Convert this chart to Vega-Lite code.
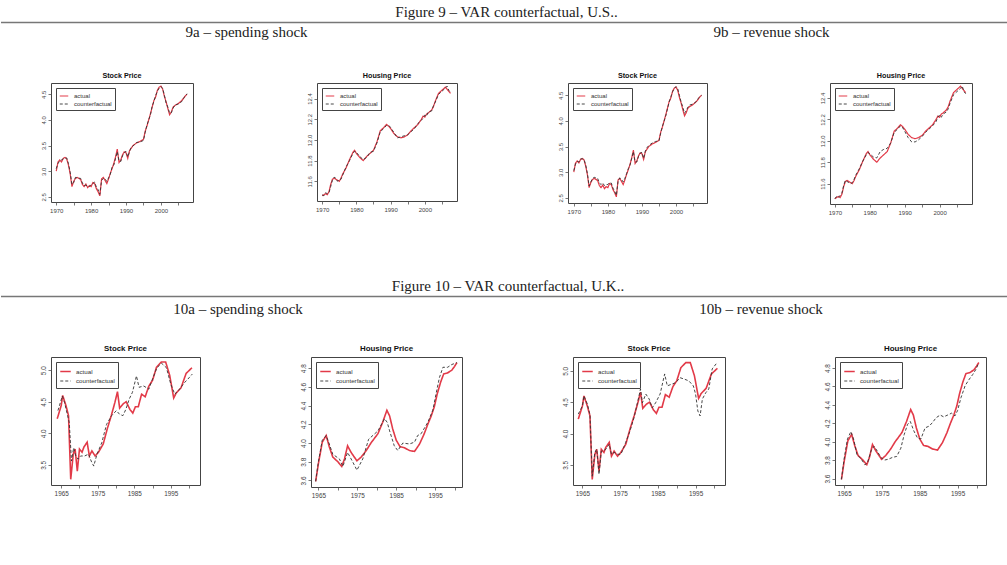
{
  "$schema": "https://vega.github.io/schema/vega-lite/v6.json",
  "background": "white",
  "padding": {"left": 0, "top": 5, "right": 0, "bottom": 0},
  "config": {
    "view": {"stroke": "#444", "strokeWidth": 1},
    "font": "Liberation Sans",
    "axis": {"grid": false, "domain": false, "tickColor": "#555", "tickSize": 3, "tickWidth": 0.8, "labelColor": "#444", "labelFont": "Liberation Sans", "labelFontSize": 6, "labelPadding": 2, "labelFlush": false, "labelOverlap": false},
    "axisY": {"labelAngle": 270},
    "legend": {"orient": "top-left", "offset": 5, "padding": 3, "strokeColor": "#444", "fillColor": "white", "labelFont": "Liberation Sans", "labelFontSize": 6, "labelColor": "#333", "symbolType": "stroke", "symbolSize": 72, "symbolStrokeWidth": 1.2, "rowPadding": 0, "labelOffset": 5},
    "title": {"font": "Liberation Sans", "fontSize": 7.2, "fontWeight": "bold", "color": "#111", "offset": 4}
  },
  "data": {"values": [
    {"d":"US stock","s":"actual","t":1970,"v":3.00},{"d":"US stock","s":"actual","t":1970.5,"v":3.18},{"d":"US stock","s":"actual","t":1971,"v":3.22},{"d":"US stock","s":"actual","t":1971.5,"v":3.18},{"d":"US stock","s":"actual","t":1972,"v":3.25},{"d":"US stock","s":"actual","t":1972.5,"v":3.27},{"d":"US stock","s":"actual","t":1973,"v":3.24},{"d":"US stock","s":"actual","t":1973.5,"v":3.12},{"d":"US stock","s":"actual","t":1974,"v":2.95},{"d":"US stock","s":"actual","t":1974.5,"v":2.70},{"d":"US stock","s":"actual","t":1975,"v":2.80},{"d":"US stock","s":"actual","t":1975.5,"v":2.86},{"d":"US stock","s":"actual","t":1976,"v":2.88},{"d":"US stock","s":"actual","t":1977,"v":2.84},{"d":"US stock","s":"actual","t":1977.5,"v":2.74},{"d":"US stock","s":"actual","t":1978,"v":2.70},{"d":"US stock","s":"actual","t":1978.5,"v":2.75},{"d":"US stock","s":"actual","t":1979,"v":2.68},{"d":"US stock","s":"actual","t":1979.5,"v":2.72},{"d":"US stock","s":"actual","t":1980,"v":2.70},{"d":"US stock","s":"actual","t":1980.5,"v":2.78},{"d":"US stock","s":"actual","t":1981,"v":2.76},{"d":"US stock","s":"actual","t":1981.5,"v":2.66},{"d":"US stock","s":"actual","t":1982,"v":2.60},{"d":"US stock","s":"actual","t":1982.5,"v":2.52},{"d":"US stock","s":"actual","t":1983,"v":2.85},{"d":"US stock","s":"actual","t":1983.5,"v":2.88},{"d":"US stock","s":"actual","t":1984,"v":2.82},{"d":"US stock","s":"actual","t":1984.5,"v":2.76},{"d":"US stock","s":"actual","t":1985,"v":2.85},{"d":"US stock","s":"actual","t":1985.5,"v":2.96},{"d":"US stock","s":"actual","t":1986,"v":3.05},{"d":"US stock","s":"actual","t":1986.5,"v":3.15},{"d":"US stock","s":"actual","t":1987,"v":3.28},{"d":"US stock","s":"actual","t":1987.5,"v":3.43},{"d":"US stock","s":"actual","t":1988,"v":3.17},{"d":"US stock","s":"actual","t":1988.5,"v":3.22},{"d":"US stock","s":"actual","t":1989,"v":3.32},{"d":"US stock","s":"actual","t":1989.5,"v":3.38},{"d":"US stock","s":"actual","t":1990,"v":3.36},{"d":"US stock","s":"actual","t":1990.5,"v":3.25},{"d":"US stock","s":"actual","t":1991,"v":3.40},{"d":"US stock","s":"actual","t":1991.5,"v":3.45},{"d":"US stock","s":"actual","t":1992,"v":3.50},{"d":"US stock","s":"actual","t":1993,"v":3.55},{"d":"US stock","s":"actual","t":1994,"v":3.58},{"d":"US stock","s":"actual","t":1995,"v":3.62},{"d":"US stock","s":"actual","t":1995.5,"v":3.78},{"d":"US stock","s":"actual","t":1996,"v":3.88},{"d":"US stock","s":"actual","t":1997,"v":4.12},{"d":"US stock","s":"actual","t":1997.5,"v":4.25},{"d":"US stock","s":"actual","t":1998,"v":4.38},{"d":"US stock","s":"actual","t":1998.5,"v":4.45},{"d":"US stock","s":"actual","t":1999,"v":4.58},{"d":"US stock","s":"actual","t":1999.5,"v":4.64},{"d":"US stock","s":"actual","t":2000,"v":4.66},{"d":"US stock","s":"actual","t":2000.5,"v":4.60},{"d":"US stock","s":"actual","t":2001,"v":4.46},{"d":"US stock","s":"actual","t":2001.5,"v":4.35},{"d":"US stock","s":"actual","t":2002,"v":4.22},{"d":"US stock","s":"actual","t":2002.5,"v":4.10},{"d":"US stock","s":"actual","t":2003,"v":4.16},{"d":"US stock","s":"actual","t":2003.5,"v":4.25},{"d":"US stock","s":"actual","t":2004,"v":4.28},{"d":"US stock","s":"actual","t":2005,"v":4.32},{"d":"US stock","s":"actual","t":2006,"v":4.38},{"d":"US stock","s":"actual","t":2006.5,"v":4.42},{"d":"US stock","s":"actual","t":2007,"v":4.47},{"d":"US stock","s":"actual","t":2007.5,"v":4.50},

    {"d":"US stock","s":"counterfactual","k":"spending","t":1970,"v":3.05},{"d":"US stock","s":"counterfactual","k":"spending","t":1970.5,"v":3.15},{"d":"US stock","s":"counterfactual","k":"spending","t":1971,"v":3.20},{"d":"US stock","s":"counterfactual","k":"spending","t":1971.5,"v":3.22},{"d":"US stock","s":"counterfactual","k":"spending","t":1972,"v":3.24},{"d":"US stock","s":"counterfactual","k":"spending","t":1972.5,"v":3.25},{"d":"US stock","s":"counterfactual","k":"spending","t":1973,"v":3.26},{"d":"US stock","s":"counterfactual","k":"spending","t":1973.5,"v":3.15},{"d":"US stock","s":"counterfactual","k":"spending","t":1974,"v":2.98},{"d":"US stock","s":"counterfactual","k":"spending","t":1974.5,"v":2.74},{"d":"US stock","s":"counterfactual","k":"spending","t":1975,"v":2.78},{"d":"US stock","s":"counterfactual","k":"spending","t":1975.5,"v":2.88},{"d":"US stock","s":"counterfactual","k":"spending","t":1976,"v":2.87},{"d":"US stock","s":"counterfactual","k":"spending","t":1977,"v":2.86},{"d":"US stock","s":"counterfactual","k":"spending","t":1977.5,"v":2.77},{"d":"US stock","s":"counterfactual","k":"spending","t":1978,"v":2.72},{"d":"US stock","s":"counterfactual","k":"spending","t":1978.5,"v":2.73},{"d":"US stock","s":"counterfactual","k":"spending","t":1979,"v":2.71},{"d":"US stock","s":"counterfactual","k":"spending","t":1979.5,"v":2.70},{"d":"US stock","s":"counterfactual","k":"spending","t":1980,"v":2.74},{"d":"US stock","s":"counterfactual","k":"spending","t":1980.5,"v":2.76},{"d":"US stock","s":"counterfactual","k":"spending","t":1981,"v":2.79},{"d":"US stock","s":"counterfactual","k":"spending","t":1981.5,"v":2.69},{"d":"US stock","s":"counterfactual","k":"spending","t":1982,"v":2.64},{"d":"US stock","s":"counterfactual","k":"spending","t":1982.5,"v":2.55},{"d":"US stock","s":"counterfactual","k":"spending","t":1983,"v":2.82},{"d":"US stock","s":"counterfactual","k":"spending","t":1983.5,"v":2.86},{"d":"US stock","s":"counterfactual","k":"spending","t":1984,"v":2.85},{"d":"US stock","s":"counterfactual","k":"spending","t":1984.5,"v":2.80},{"d":"US stock","s":"counterfactual","k":"spending","t":1985,"v":2.87},{"d":"US stock","s":"counterfactual","k":"spending","t":1985.5,"v":2.94},{"d":"US stock","s":"counterfactual","k":"spending","t":1986,"v":3.08},{"d":"US stock","s":"counterfactual","k":"spending","t":1986.5,"v":3.12},{"d":"US stock","s":"counterfactual","k":"spending","t":1987,"v":3.25},{"d":"US stock","s":"counterfactual","k":"spending","t":1987.5,"v":3.38},{"d":"US stock","s":"counterfactual","k":"spending","t":1988,"v":3.20},{"d":"US stock","s":"counterfactual","k":"spending","t":1988.5,"v":3.19},{"d":"US stock","s":"counterfactual","k":"spending","t":1989,"v":3.30},{"d":"US stock","s":"counterfactual","k":"spending","t":1989.5,"v":3.36},{"d":"US stock","s":"counterfactual","k":"spending","t":1990,"v":3.39},{"d":"US stock","s":"counterfactual","k":"spending","t":1990.5,"v":3.28},{"d":"US stock","s":"counterfactual","k":"spending","t":1991,"v":3.38},{"d":"US stock","s":"counterfactual","k":"spending","t":1991.5,"v":3.47},{"d":"US stock","s":"counterfactual","k":"spending","t":1992,"v":3.49},{"d":"US stock","s":"counterfactual","k":"spending","t":1993,"v":3.56},{"d":"US stock","s":"counterfactual","k":"spending","t":1994,"v":3.57},{"d":"US stock","s":"counterfactual","k":"spending","t":1995,"v":3.60},{"d":"US stock","s":"counterfactual","k":"spending","t":1995.5,"v":3.76},{"d":"US stock","s":"counterfactual","k":"spending","t":1996,"v":3.90},{"d":"US stock","s":"counterfactual","k":"spending","t":1997,"v":4.10},{"d":"US stock","s":"counterfactual","k":"spending","t":1997.5,"v":4.27},{"d":"US stock","s":"counterfactual","k":"spending","t":1998,"v":4.36},{"d":"US stock","s":"counterfactual","k":"spending","t":1998.5,"v":4.48},{"d":"US stock","s":"counterfactual","k":"spending","t":1999,"v":4.56},{"d":"US stock","s":"counterfactual","k":"spending","t":1999.5,"v":4.62},{"d":"US stock","s":"counterfactual","k":"spending","t":2000,"v":4.65},{"d":"US stock","s":"counterfactual","k":"spending","t":2000.5,"v":4.62},{"d":"US stock","s":"counterfactual","k":"spending","t":2001,"v":4.48},{"d":"US stock","s":"counterfactual","k":"spending","t":2001.5,"v":4.33},{"d":"US stock","s":"counterfactual","k":"spending","t":2002,"v":4.25},{"d":"US stock","s":"counterfactual","k":"spending","t":2002.5,"v":4.13},{"d":"US stock","s":"counterfactual","k":"spending","t":2003,"v":4.14},{"d":"US stock","s":"counterfactual","k":"spending","t":2003.5,"v":4.23},{"d":"US stock","s":"counterfactual","k":"spending","t":2004,"v":4.29},{"d":"US stock","s":"counterfactual","k":"spending","t":2005,"v":4.31},{"d":"US stock","s":"counterfactual","k":"spending","t":2006,"v":4.36},{"d":"US stock","s":"counterfactual","k":"spending","t":2006.5,"v":4.43},{"d":"US stock","s":"counterfactual","k":"spending","t":2007,"v":4.46},{"d":"US stock","s":"counterfactual","k":"spending","t":2007.5,"v":4.51},

    {"d":"US stock","s":"counterfactual","k":"revenue","t":1970,"v":3.03},{"d":"US stock","s":"counterfactual","k":"revenue","t":1970.5,"v":3.16},{"d":"US stock","s":"counterfactual","k":"revenue","t":1971,"v":3.21},{"d":"US stock","s":"counterfactual","k":"revenue","t":1971.5,"v":3.20},{"d":"US stock","s":"counterfactual","k":"revenue","t":1972,"v":3.26},{"d":"US stock","s":"counterfactual","k":"revenue","t":1972.5,"v":3.26},{"d":"US stock","s":"counterfactual","k":"revenue","t":1973,"v":3.25},{"d":"US stock","s":"counterfactual","k":"revenue","t":1973.5,"v":3.14},{"d":"US stock","s":"counterfactual","k":"revenue","t":1974,"v":2.97},{"d":"US stock","s":"counterfactual","k":"revenue","t":1974.5,"v":2.73},{"d":"US stock","s":"counterfactual","k":"revenue","t":1975,"v":2.81},{"d":"US stock","s":"counterfactual","k":"revenue","t":1975.5,"v":2.88},{"d":"US stock","s":"counterfactual","k":"revenue","t":1976,"v":2.90},{"d":"US stock","s":"counterfactual","k":"revenue","t":1977,"v":2.88},{"d":"US stock","s":"counterfactual","k":"revenue","t":1977.5,"v":2.79},{"d":"US stock","s":"counterfactual","k":"revenue","t":1978,"v":2.76},{"d":"US stock","s":"counterfactual","k":"revenue","t":1978.5,"v":2.79},{"d":"US stock","s":"counterfactual","k":"revenue","t":1979,"v":2.74},{"d":"US stock","s":"counterfactual","k":"revenue","t":1979.5,"v":2.76},{"d":"US stock","s":"counterfactual","k":"revenue","t":1980,"v":2.76},{"d":"US stock","s":"counterfactual","k":"revenue","t":1980.5,"v":2.80},{"d":"US stock","s":"counterfactual","k":"revenue","t":1981,"v":2.79},{"d":"US stock","s":"counterfactual","k":"revenue","t":1981.5,"v":2.69},{"d":"US stock","s":"counterfactual","k":"revenue","t":1982,"v":2.63},{"d":"US stock","s":"counterfactual","k":"revenue","t":1982.5,"v":2.55},{"d":"US stock","s":"counterfactual","k":"revenue","t":1983,"v":2.83},{"d":"US stock","s":"counterfactual","k":"revenue","t":1983.5,"v":2.89},{"d":"US stock","s":"counterfactual","k":"revenue","t":1984,"v":2.86},{"d":"US stock","s":"counterfactual","k":"revenue","t":1984.5,"v":2.81},{"d":"US stock","s":"counterfactual","k":"revenue","t":1985,"v":2.88},{"d":"US stock","s":"counterfactual","k":"revenue","t":1985.5,"v":2.97},{"d":"US stock","s":"counterfactual","k":"revenue","t":1986,"v":3.07},{"d":"US stock","s":"counterfactual","k":"revenue","t":1986.5,"v":3.14},{"d":"US stock","s":"counterfactual","k":"revenue","t":1987,"v":3.27},{"d":"US stock","s":"counterfactual","k":"revenue","t":1987.5,"v":3.40},{"d":"US stock","s":"counterfactual","k":"revenue","t":1988,"v":3.20},{"d":"US stock","s":"counterfactual","k":"revenue","t":1988.5,"v":3.20},{"d":"US stock","s":"counterfactual","k":"revenue","t":1989,"v":3.31},{"d":"US stock","s":"counterfactual","k":"revenue","t":1989.5,"v":3.37},{"d":"US stock","s":"counterfactual","k":"revenue","t":1990,"v":3.39},{"d":"US stock","s":"counterfactual","k":"revenue","t":1990.5,"v":3.27},{"d":"US stock","s":"counterfactual","k":"revenue","t":1991,"v":3.41},{"d":"US stock","s":"counterfactual","k":"revenue","t":1991.5,"v":3.48},{"d":"US stock","s":"counterfactual","k":"revenue","t":1992,"v":3.52},{"d":"US stock","s":"counterfactual","k":"revenue","t":1993,"v":3.57},{"d":"US stock","s":"counterfactual","k":"revenue","t":1994,"v":3.60},{"d":"US stock","s":"counterfactual","k":"revenue","t":1995,"v":3.61},{"d":"US stock","s":"counterfactual","k":"revenue","t":1995.5,"v":3.76},{"d":"US stock","s":"counterfactual","k":"revenue","t":1996,"v":3.89},{"d":"US stock","s":"counterfactual","k":"revenue","t":1997,"v":4.10},{"d":"US stock","s":"counterfactual","k":"revenue","t":1997.5,"v":4.24},{"d":"US stock","s":"counterfactual","k":"revenue","t":1998,"v":4.37},{"d":"US stock","s":"counterfactual","k":"revenue","t":1998.5,"v":4.47},{"d":"US stock","s":"counterfactual","k":"revenue","t":1999,"v":4.57},{"d":"US stock","s":"counterfactual","k":"revenue","t":1999.5,"v":4.63},{"d":"US stock","s":"counterfactual","k":"revenue","t":2000,"v":4.67},{"d":"US stock","s":"counterfactual","k":"revenue","t":2000.5,"v":4.63},{"d":"US stock","s":"counterfactual","k":"revenue","t":2001,"v":4.50},{"d":"US stock","s":"counterfactual","k":"revenue","t":2001.5,"v":4.37},{"d":"US stock","s":"counterfactual","k":"revenue","t":2002,"v":4.27},{"d":"US stock","s":"counterfactual","k":"revenue","t":2002.5,"v":4.15},{"d":"US stock","s":"counterfactual","k":"revenue","t":2003,"v":4.20},{"d":"US stock","s":"counterfactual","k":"revenue","t":2003.5,"v":4.27},{"d":"US stock","s":"counterfactual","k":"revenue","t":2004,"v":4.31},{"d":"US stock","s":"counterfactual","k":"revenue","t":2005,"v":4.33},{"d":"US stock","s":"counterfactual","k":"revenue","t":2006,"v":4.38},{"d":"US stock","s":"counterfactual","k":"revenue","t":2006.5,"v":4.44},{"d":"US stock","s":"counterfactual","k":"revenue","t":2007,"v":4.47},{"d":"US stock","s":"counterfactual","k":"revenue","t":2007.5,"v":4.50},

    {"d":"US housing","s":"actual","t":1970,"v":11.46},{"d":"US housing","s":"actual","t":1970.5,"v":11.47},{"d":"US housing","s":"actual","t":1971,"v":11.48},{"d":"US housing","s":"actual","t":1971.5,"v":11.47},{"d":"US housing","s":"actual","t":1972,"v":11.50},{"d":"US housing","s":"actual","t":1972.5,"v":11.57},{"d":"US housing","s":"actual","t":1973,"v":11.62},{"d":"US housing","s":"actual","t":1973.5,"v":11.63},{"d":"US housing","s":"actual","t":1974,"v":11.62},{"d":"US housing","s":"actual","t":1974.5,"v":11.61},{"d":"US housing","s":"actual","t":1975,"v":11.60},{"d":"US housing","s":"actual","t":1975.5,"v":11.63},{"d":"US housing","s":"actual","t":1976,"v":11.67},{"d":"US housing","s":"actual","t":1977,"v":11.73},{"d":"US housing","s":"actual","t":1978,"v":11.81},{"d":"US housing","s":"actual","t":1979,"v":11.88},{"d":"US housing","s":"actual","t":1979.5,"v":11.90},{"d":"US housing","s":"actual","t":1980,"v":11.87},{"d":"US housing","s":"actual","t":1981,"v":11.83},{"d":"US housing","s":"actual","t":1982,"v":11.80},{"d":"US housing","s":"actual","t":1983,"v":11.84},{"d":"US housing","s":"actual","t":1984,"v":11.87},{"d":"US housing","s":"actual","t":1985,"v":11.90},{"d":"US housing","s":"actual","t":1986,"v":11.98},{"d":"US housing","s":"actual","t":1987,"v":12.09},{"d":"US housing","s":"actual","t":1988,"v":12.12},{"d":"US housing","s":"actual","t":1988.8,"v":12.15},{"d":"US housing","s":"actual","t":1989.5,"v":12.13},{"d":"US housing","s":"actual","t":1990,"v":12.11},{"d":"US housing","s":"actual","t":1991,"v":12.06},{"d":"US housing","s":"actual","t":1992,"v":12.03},{"d":"US housing","s":"actual","t":1993,"v":12.02},{"d":"US housing","s":"actual","t":1994,"v":12.03},{"d":"US housing","s":"actual","t":1995,"v":12.05},{"d":"US housing","s":"actual","t":1996,"v":12.09},{"d":"US housing","s":"actual","t":1997,"v":12.12},{"d":"US housing","s":"actual","t":1998,"v":12.15},{"d":"US housing","s":"actual","t":1999,"v":12.20},{"d":"US housing","s":"actual","t":1999.5,"v":12.23},{"d":"US housing","s":"actual","t":2000,"v":12.22},{"d":"US housing","s":"actual","t":2000.5,"v":12.25},{"d":"US housing","s":"actual","t":2001,"v":12.26},{"d":"US housing","s":"actual","t":2002,"v":12.29},{"d":"US housing","s":"actual","t":2002.5,"v":12.32},{"d":"US housing","s":"actual","t":2003,"v":12.37},{"d":"US housing","s":"actual","t":2004,"v":12.45},{"d":"US housing","s":"actual","t":2005,"v":12.48},{"d":"US housing","s":"actual","t":2006,"v":12.51},{"d":"US housing","s":"actual","t":2006.5,"v":12.49},{"d":"US housing","s":"actual","t":2007,"v":12.47},{"d":"US housing","s":"actual","t":2007.5,"v":12.45},

    {"d":"US housing","s":"counterfactual","k":"spending","t":1970,"v":11.47},{"d":"US housing","s":"counterfactual","k":"spending","t":1970.5,"v":11.46},{"d":"US housing","s":"counterfactual","k":"spending","t":1971,"v":11.49},{"d":"US housing","s":"counterfactual","k":"spending","t":1971.5,"v":11.48},{"d":"US housing","s":"counterfactual","k":"spending","t":1972,"v":11.49},{"d":"US housing","s":"counterfactual","k":"spending","t":1972.5,"v":11.55},{"d":"US housing","s":"counterfactual","k":"spending","t":1973,"v":11.61},{"d":"US housing","s":"counterfactual","k":"spending","t":1973.5,"v":11.64},{"d":"US housing","s":"counterfactual","k":"spending","t":1974,"v":11.63},{"d":"US housing","s":"counterfactual","k":"spending","t":1974.5,"v":11.60},{"d":"US housing","s":"counterfactual","k":"spending","t":1975,"v":11.62},{"d":"US housing","s":"counterfactual","k":"spending","t":1975.5,"v":11.62},{"d":"US housing","s":"counterfactual","k":"spending","t":1976,"v":11.66},{"d":"US housing","s":"counterfactual","k":"spending","t":1977,"v":11.74},{"d":"US housing","s":"counterfactual","k":"spending","t":1978,"v":11.80},{"d":"US housing","s":"counterfactual","k":"spending","t":1979,"v":11.87},{"d":"US housing","s":"counterfactual","k":"spending","t":1979.5,"v":11.89},{"d":"US housing","s":"counterfactual","k":"spending","t":1980,"v":11.88},{"d":"US housing","s":"counterfactual","k":"spending","t":1981,"v":11.84},{"d":"US housing","s":"counterfactual","k":"spending","t":1982,"v":11.81},{"d":"US housing","s":"counterfactual","k":"spending","t":1983,"v":11.83},{"d":"US housing","s":"counterfactual","k":"spending","t":1984,"v":11.88},{"d":"US housing","s":"counterfactual","k":"spending","t":1985,"v":11.89},{"d":"US housing","s":"counterfactual","k":"spending","t":1986,"v":11.97},{"d":"US housing","s":"counterfactual","k":"spending","t":1987,"v":12.08},{"d":"US housing","s":"counterfactual","k":"spending","t":1988,"v":12.11},{"d":"US housing","s":"counterfactual","k":"spending","t":1988.8,"v":12.14},{"d":"US housing","s":"counterfactual","k":"spending","t":1989.5,"v":12.14},{"d":"US housing","s":"counterfactual","k":"spending","t":1990,"v":12.12},{"d":"US housing","s":"counterfactual","k":"spending","t":1991,"v":12.07},{"d":"US housing","s":"counterfactual","k":"spending","t":1992,"v":12.02},{"d":"US housing","s":"counterfactual","k":"spending","t":1993,"v":12.03},{"d":"US housing","s":"counterfactual","k":"spending","t":1994,"v":12.04},{"d":"US housing","s":"counterfactual","k":"spending","t":1995,"v":12.05},{"d":"US housing","s":"counterfactual","k":"spending","t":1996,"v":12.08},{"d":"US housing","s":"counterfactual","k":"spending","t":1997,"v":12.11},{"d":"US housing","s":"counterfactual","k":"spending","t":1998,"v":12.16},{"d":"US housing","s":"counterfactual","k":"spending","t":1999,"v":12.19},{"d":"US housing","s":"counterfactual","k":"spending","t":1999.5,"v":12.21},{"d":"US housing","s":"counterfactual","k":"spending","t":2000,"v":12.24},{"d":"US housing","s":"counterfactual","k":"spending","t":2000.5,"v":12.23},{"d":"US housing","s":"counterfactual","k":"spending","t":2001,"v":12.27},{"d":"US housing","s":"counterfactual","k":"spending","t":2002,"v":12.28},{"d":"US housing","s":"counterfactual","k":"spending","t":2002.5,"v":12.33},{"d":"US housing","s":"counterfactual","k":"spending","t":2003,"v":12.36},{"d":"US housing","s":"counterfactual","k":"spending","t":2004,"v":12.44},{"d":"US housing","s":"counterfactual","k":"spending","t":2005,"v":12.47},{"d":"US housing","s":"counterfactual","k":"spending","t":2006,"v":12.50},{"d":"US housing","s":"counterfactual","k":"spending","t":2006.5,"v":12.52},{"d":"US housing","s":"counterfactual","k":"spending","t":2007,"v":12.48},{"d":"US housing","s":"counterfactual","k":"spending","t":2007.5,"v":12.46},

    {"d":"US housing","s":"counterfactual","k":"revenue","t":1970,"v":11.46},{"d":"US housing","s":"counterfactual","k":"revenue","t":1970.5,"v":11.48},{"d":"US housing","s":"counterfactual","k":"revenue","t":1971,"v":11.47},{"d":"US housing","s":"counterfactual","k":"revenue","t":1971.5,"v":11.49},{"d":"US housing","s":"counterfactual","k":"revenue","t":1972,"v":11.51},{"d":"US housing","s":"counterfactual","k":"revenue","t":1972.5,"v":11.58},{"d":"US housing","s":"counterfactual","k":"revenue","t":1973,"v":11.63},{"d":"US housing","s":"counterfactual","k":"revenue","t":1973.5,"v":11.62},{"d":"US housing","s":"counterfactual","k":"revenue","t":1974,"v":11.61},{"d":"US housing","s":"counterfactual","k":"revenue","t":1974.5,"v":11.60},{"d":"US housing","s":"counterfactual","k":"revenue","t":1975,"v":11.61},{"d":"US housing","s":"counterfactual","k":"revenue","t":1975.5,"v":11.64},{"d":"US housing","s":"counterfactual","k":"revenue","t":1976,"v":11.68},{"d":"US housing","s":"counterfactual","k":"revenue","t":1977,"v":11.74},{"d":"US housing","s":"counterfactual","k":"revenue","t":1978,"v":11.81},{"d":"US housing","s":"counterfactual","k":"revenue","t":1979,"v":11.87},{"d":"US housing","s":"counterfactual","k":"revenue","t":1979.5,"v":11.89},{"d":"US housing","s":"counterfactual","k":"revenue","t":1980,"v":11.88},{"d":"US housing","s":"counterfactual","k":"revenue","t":1981,"v":11.85},{"d":"US housing","s":"counterfactual","k":"revenue","t":1982,"v":11.84},{"d":"US housing","s":"counterfactual","k":"revenue","t":1983,"v":11.90},{"d":"US housing","s":"counterfactual","k":"revenue","t":1984,"v":11.92},{"d":"US housing","s":"counterfactual","k":"revenue","t":1985,"v":11.93},{"d":"US housing","s":"counterfactual","k":"revenue","t":1986,"v":11.98},{"d":"US housing","s":"counterfactual","k":"revenue","t":1987,"v":12.08},{"d":"US housing","s":"counterfactual","k":"revenue","t":1988,"v":12.11},{"d":"US housing","s":"counterfactual","k":"revenue","t":1988.8,"v":12.14},{"d":"US housing","s":"counterfactual","k":"revenue","t":1989.5,"v":12.12},{"d":"US housing","s":"counterfactual","k":"revenue","t":1990,"v":12.09},{"d":"US housing","s":"counterfactual","k":"revenue","t":1991,"v":12.03},{"d":"US housing","s":"counterfactual","k":"revenue","t":1992,"v":11.99},{"d":"US housing","s":"counterfactual","k":"revenue","t":1993,"v":11.99},{"d":"US housing","s":"counterfactual","k":"revenue","t":1994,"v":12.01},{"d":"US housing","s":"counterfactual","k":"revenue","t":1995,"v":12.04},{"d":"US housing","s":"counterfactual","k":"revenue","t":1996,"v":12.08},{"d":"US housing","s":"counterfactual","k":"revenue","t":1997,"v":12.11},{"d":"US housing","s":"counterfactual","k":"revenue","t":1998,"v":12.14},{"d":"US housing","s":"counterfactual","k":"revenue","t":1999,"v":12.18},{"d":"US housing","s":"counterfactual","k":"revenue","t":1999.5,"v":12.22},{"d":"US housing","s":"counterfactual","k":"revenue","t":2000,"v":12.24},{"d":"US housing","s":"counterfactual","k":"revenue","t":2000.5,"v":12.22},{"d":"US housing","s":"counterfactual","k":"revenue","t":2001,"v":12.25},{"d":"US housing","s":"counterfactual","k":"revenue","t":2002,"v":12.27},{"d":"US housing","s":"counterfactual","k":"revenue","t":2002.5,"v":12.30},{"d":"US housing","s":"counterfactual","k":"revenue","t":2003,"v":12.35},{"d":"US housing","s":"counterfactual","k":"revenue","t":2004,"v":12.43},{"d":"US housing","s":"counterfactual","k":"revenue","t":2005,"v":12.46},{"d":"US housing","s":"counterfactual","k":"revenue","t":2006,"v":12.49},{"d":"US housing","s":"counterfactual","k":"revenue","t":2006.5,"v":12.51},{"d":"US housing","s":"counterfactual","k":"revenue","t":2007,"v":12.46},{"d":"US housing","s":"counterfactual","k":"revenue","t":2007.5,"v":12.44},

    {"d":"UK stock","s":"actual","t":1963.9,"v":4.23},{"d":"UK stock","s":"actual","t":1965.0,"v":4.44},{"d":"UK stock","s":"actual","t":1965.4,"v":4.60},{"d":"UK stock","s":"actual","t":1966.3,"v":4.44},{"d":"UK stock","s":"actual","t":1967.0,"v":4.28},{"d":"UK stock","s":"actual","t":1967.6,"v":3.27},{"d":"UK stock","s":"actual","t":1968.3,"v":3.67},{"d":"UK stock","s":"actual","t":1968.8,"v":3.75},{"d":"UK stock","s":"actual","t":1969.4,"v":3.40},{"d":"UK stock","s":"actual","t":1970.0,"v":3.75},{"d":"UK stock","s":"actual","t":1970.7,"v":3.70},{"d":"UK stock","s":"actual","t":1971.2,"v":3.78},{"d":"UK stock","s":"actual","t":1972.1,"v":3.86},{"d":"UK stock","s":"actual","t":1972.7,"v":3.64},{"d":"UK stock","s":"actual","t":1973.4,"v":3.72},{"d":"UK stock","s":"actual","t":1974.3,"v":3.64},{"d":"UK stock","s":"actual","t":1975.2,"v":3.70},{"d":"UK stock","s":"actual","t":1976.5,"v":3.83},{"d":"UK stock","s":"actual","t":1977.6,"v":4.07},{"d":"UK stock","s":"actual","t":1978.7,"v":4.28},{"d":"UK stock","s":"actual","t":1979.7,"v":4.49},{"d":"UK stock","s":"actual","t":1980.4,"v":4.66},{"d":"UK stock","s":"actual","t":1981.0,"v":4.40},{"d":"UK stock","s":"actual","t":1982.0,"v":4.47},{"d":"UK stock","s":"actual","t":1982.8,"v":4.50},{"d":"UK stock","s":"actual","t":1983.8,"v":4.38},{"d":"UK stock","s":"actual","t":1984.6,"v":4.32},{"d":"UK stock","s":"actual","t":1985.3,"v":4.42},{"d":"UK stock","s":"actual","t":1986.1,"v":4.42},{"d":"UK stock","s":"actual","t":1987.0,"v":4.62},{"d":"UK stock","s":"actual","t":1988.0,"v":4.58},{"d":"UK stock","s":"actual","t":1989.0,"v":4.75},{"d":"UK stock","s":"actual","t":1990.0,"v":4.84},{"d":"UK stock","s":"actual","t":1991.1,"v":5.05},{"d":"UK stock","s":"actual","t":1992.4,"v":5.13},{"d":"UK stock","s":"actual","t":1993.6,"v":5.13},{"d":"UK stock","s":"actual","t":1994.7,"v":4.92},{"d":"UK stock","s":"actual","t":1995.8,"v":4.56},{"d":"UK stock","s":"actual","t":1996.5,"v":4.64},{"d":"UK stock","s":"actual","t":1997.8,"v":4.72},{"d":"UK stock","s":"actual","t":1999.2,"v":4.95},{"d":"UK stock","s":"actual","t":2000.8,"v":5.04},

    {"d":"UK stock","s":"counterfactual","k":"spending","t":1964.1,"v":4.36},{"d":"UK stock","s":"counterfactual","k":"spending","t":1965.3,"v":4.59},{"d":"UK stock","s":"counterfactual","k":"spending","t":1965.9,"v":4.49},{"d":"UK stock","s":"counterfactual","k":"spending","t":1967.2,"v":4.17},{"d":"UK stock","s":"counterfactual","k":"spending","t":1967.8,"v":3.56},{"d":"UK stock","s":"counterfactual","k":"spending","t":1968.4,"v":3.77},{"d":"UK stock","s":"counterfactual","k":"spending","t":1969.0,"v":3.64},{"d":"UK stock","s":"counterfactual","k":"spending","t":1969.6,"v":3.59},{"d":"UK stock","s":"counterfactual","k":"spending","t":1970.3,"v":3.64},{"d":"UK stock","s":"counterfactual","k":"spending","t":1971.4,"v":3.64},{"d":"UK stock","s":"counterfactual","k":"spending","t":1972.5,"v":3.67},{"d":"UK stock","s":"counterfactual","k":"spending","t":1973.2,"v":3.56},{"d":"UK stock","s":"counterfactual","k":"spending","t":1973.9,"v":3.48},{"d":"UK stock","s":"counterfactual","k":"spending","t":1974.8,"v":3.67},{"d":"UK stock","s":"counterfactual","k":"spending","t":1976.1,"v":3.85},{"d":"UK stock","s":"counterfactual","k":"spending","t":1977.4,"v":4.14},{"d":"UK stock","s":"counterfactual","k":"spending","t":1978.8,"v":4.28},{"d":"UK stock","s":"counterfactual","k":"spending","t":1980.1,"v":4.36},{"d":"UK stock","s":"counterfactual","k":"spending","t":1981.0,"v":4.30},{"d":"UK stock","s":"counterfactual","k":"spending","t":1981.9,"v":4.28},{"d":"UK stock","s":"counterfactual","k":"spending","t":1982.7,"v":4.38},{"d":"UK stock","s":"counterfactual","k":"spending","t":1983.6,"v":4.54},{"d":"UK stock","s":"counterfactual","k":"spending","t":1984.5,"v":4.65},{"d":"UK stock","s":"counterfactual","k":"spending","t":1985.6,"v":4.91},{"d":"UK stock","s":"counterfactual","k":"spending","t":1986.3,"v":4.73},{"d":"UK stock","s":"counterfactual","k":"spending","t":1987.6,"v":4.75},{"d":"UK stock","s":"counterfactual","k":"spending","t":1989.0,"v":4.70},{"d":"UK stock","s":"counterfactual","k":"spending","t":1989.8,"v":4.83},{"d":"UK stock","s":"counterfactual","k":"spending","t":1991.2,"v":5.04},{"d":"UK stock","s":"counterfactual","k":"spending","t":1992.5,"v":5.11},{"d":"UK stock","s":"counterfactual","k":"spending","t":1993.8,"v":5.04},{"d":"UK stock","s":"counterfactual","k":"spending","t":1995.0,"v":4.78},{"d":"UK stock","s":"counterfactual","k":"spending","t":1996.1,"v":4.62},{"d":"UK stock","s":"counterfactual","k":"spending","t":1997.4,"v":4.70},{"d":"UK stock","s":"counterfactual","k":"spending","t":1998.7,"v":4.80},{"d":"UK stock","s":"counterfactual","k":"spending","t":2000.0,"v":4.88},{"d":"UK stock","s":"counterfactual","k":"spending","t":2000.9,"v":4.94},

    {"d":"UK stock","s":"counterfactual","k":"revenue","t":1963.9,"v":4.31},{"d":"UK stock","s":"counterfactual","k":"revenue","t":1965.0,"v":4.44},{"d":"UK stock","s":"counterfactual","k":"revenue","t":1965.4,"v":4.60},{"d":"UK stock","s":"counterfactual","k":"revenue","t":1966.3,"v":4.47},{"d":"UK stock","s":"counterfactual","k":"revenue","t":1967.0,"v":4.30},{"d":"UK stock","s":"counterfactual","k":"revenue","t":1967.6,"v":3.32},{"d":"UK stock","s":"counterfactual","k":"revenue","t":1968.3,"v":3.70},{"d":"UK stock","s":"counterfactual","k":"revenue","t":1968.8,"v":3.75},{"d":"UK stock","s":"counterfactual","k":"revenue","t":1969.4,"v":3.35},{"d":"UK stock","s":"counterfactual","k":"revenue","t":1970.0,"v":3.72},{"d":"UK stock","s":"counterfactual","k":"revenue","t":1970.7,"v":3.73},{"d":"UK stock","s":"counterfactual","k":"revenue","t":1971.2,"v":3.75},{"d":"UK stock","s":"counterfactual","k":"revenue","t":1972.1,"v":3.83},{"d":"UK stock","s":"counterfactual","k":"revenue","t":1972.7,"v":3.67},{"d":"UK stock","s":"counterfactual","k":"revenue","t":1973.4,"v":3.70},{"d":"UK stock","s":"counterfactual","k":"revenue","t":1974.3,"v":3.67},{"d":"UK stock","s":"counterfactual","k":"revenue","t":1975.2,"v":3.67},{"d":"UK stock","s":"counterfactual","k":"revenue","t":1976.5,"v":3.86},{"d":"UK stock","s":"counterfactual","k":"revenue","t":1977.6,"v":4.04},{"d":"UK stock","s":"counterfactual","k":"revenue","t":1978.7,"v":4.26},{"d":"UK stock","s":"counterfactual","k":"revenue","t":1979.7,"v":4.52},{"d":"UK stock","s":"counterfactual","k":"revenue","t":1980.4,"v":4.71},{"d":"UK stock","s":"counterfactual","k":"revenue","t":1980.9,"v":4.49},{"d":"UK stock","s":"counterfactual","k":"revenue","t":1981.8,"v":4.63},{"d":"UK stock","s":"counterfactual","k":"revenue","t":1982.7,"v":4.55},{"d":"UK stock","s":"counterfactual","k":"revenue","t":1983.5,"v":4.41},{"d":"UK stock","s":"counterfactual","k":"revenue","t":1984.4,"v":4.49},{"d":"UK stock","s":"counterfactual","k":"revenue","t":1985.6,"v":4.63},{"d":"UK stock","s":"counterfactual","k":"revenue","t":1986.8,"v":4.95},{"d":"UK stock","s":"counterfactual","k":"revenue","t":1987.5,"v":4.76},{"d":"UK stock","s":"counterfactual","k":"revenue","t":1988.8,"v":4.79},{"d":"UK stock","s":"counterfactual","k":"revenue","t":1989.7,"v":4.81},{"d":"UK stock","s":"counterfactual","k":"revenue","t":1990.9,"v":4.89},{"d":"UK stock","s":"counterfactual","k":"revenue","t":1991.9,"v":4.87},{"d":"UK stock","s":"counterfactual","k":"revenue","t":1993.2,"v":4.84},{"d":"UK stock","s":"counterfactual","k":"revenue","t":1994.4,"v":4.76},{"d":"UK stock","s":"counterfactual","k":"revenue","t":1995.0,"v":4.63},{"d":"UK stock","s":"counterfactual","k":"revenue","t":1995.6,"v":4.36},{"d":"UK stock","s":"counterfactual","k":"revenue","t":1996.2,"v":4.28},{"d":"UK stock","s":"counterfactual","k":"revenue","t":1996.8,"v":4.55},{"d":"UK stock","s":"counterfactual","k":"revenue","t":1997.7,"v":4.65},{"d":"UK stock","s":"counterfactual","k":"revenue","t":1998.5,"v":4.71},{"d":"UK stock","s":"counterfactual","k":"revenue","t":1999.4,"v":5.03},{"d":"UK stock","s":"counterfactual","k":"revenue","t":2000.7,"v":5.13},

    {"d":"UK housing","s":"actual","t":1964.3,"v":3.59},{"d":"UK housing","s":"actual","t":1965.0,"v":3.78},{"d":"UK housing","s":"actual","t":1966.0,"v":4.01},{"d":"UK housing","s":"actual","t":1967.0,"v":4.08},{"d":"UK housing","s":"actual","t":1967.8,"v":3.96},{"d":"UK housing","s":"actual","t":1968.7,"v":3.85},{"d":"UK housing","s":"actual","t":1970.0,"v":3.80},{"d":"UK housing","s":"actual","t":1971.0,"v":3.75},{"d":"UK housing","s":"actual","t":1971.7,"v":3.83},{"d":"UK housing","s":"actual","t":1972.5,"v":3.97},{"d":"UK housing","s":"actual","t":1973.4,"v":3.90},{"d":"UK housing","s":"actual","t":1974.9,"v":3.81},{"d":"UK housing","s":"actual","t":1976.0,"v":3.85},{"d":"UK housing","s":"actual","t":1977.3,"v":3.92},{"d":"UK housing","s":"actual","t":1978.5,"v":4.00},{"d":"UK housing","s":"actual","t":1980.3,"v":4.10},{"d":"UK housing","s":"actual","t":1981.5,"v":4.22},{"d":"UK housing","s":"actual","t":1982.6,"v":4.35},{"d":"UK housing","s":"actual","t":1983.3,"v":4.29},{"d":"UK housing","s":"actual","t":1984.1,"v":4.15},{"d":"UK housing","s":"actual","t":1985.0,"v":4.03},{"d":"UK housing","s":"actual","t":1986.0,"v":3.96},{"d":"UK housing","s":"actual","t":1987.1,"v":3.95},{"d":"UK housing","s":"actual","t":1988.4,"v":3.92},{"d":"UK housing","s":"actual","t":1989.7,"v":3.91},{"d":"UK housing","s":"actual","t":1991.0,"v":3.99},{"d":"UK housing","s":"actual","t":1992.2,"v":4.10},{"d":"UK housing","s":"actual","t":1993.1,"v":4.20},{"d":"UK housing","s":"actual","t":1994.0,"v":4.29},{"d":"UK housing","s":"actual","t":1994.8,"v":4.39},{"d":"UK housing","s":"actual","t":1995.5,"v":4.52},{"d":"UK housing","s":"actual","t":1996.4,"v":4.65},{"d":"UK housing","s":"actual","t":1997.2,"v":4.74},{"d":"UK housing","s":"actual","t":1998.2,"v":4.75},{"d":"UK housing","s":"actual","t":1999.3,"v":4.78},{"d":"UK housing","s":"actual","t":2000.0,"v":4.82},{"d":"UK housing","s":"actual","t":2000.6,"v":4.86},

    {"d":"UK housing","s":"counterfactual","k":"spending","t":1964.3,"v":3.59},{"d":"UK housing","s":"counterfactual","k":"spending","t":1965.0,"v":3.80},{"d":"UK housing","s":"counterfactual","k":"spending","t":1966.0,"v":4.03},{"d":"UK housing","s":"counterfactual","k":"spending","t":1967.0,"v":4.08},{"d":"UK housing","s":"counterfactual","k":"spending","t":1967.8,"v":3.99},{"d":"UK housing","s":"counterfactual","k":"spending","t":1968.7,"v":3.88},{"d":"UK housing","s":"counterfactual","k":"spending","t":1970.4,"v":3.83},{"d":"UK housing","s":"counterfactual","k":"spending","t":1971.3,"v":3.75},{"d":"UK housing","s":"counterfactual","k":"spending","t":1972.5,"v":3.90},{"d":"UK housing","s":"counterfactual","k":"spending","t":1973.8,"v":3.80},{"d":"UK housing","s":"counterfactual","k":"spending","t":1974.9,"v":3.71},{"d":"UK housing","s":"counterfactual","k":"spending","t":1976.4,"v":3.83},{"d":"UK housing","s":"counterfactual","k":"spending","t":1977.9,"v":4.04},{"d":"UK housing","s":"counterfactual","k":"spending","t":1980.3,"v":4.13},{"d":"UK housing","s":"counterfactual","k":"spending","t":1982.0,"v":4.26},{"d":"UK housing","s":"counterfactual","k":"spending","t":1982.7,"v":4.22},{"d":"UK housing","s":"counterfactual","k":"spending","t":1983.3,"v":4.13},{"d":"UK housing","s":"counterfactual","k":"spending","t":1984.5,"v":3.97},{"d":"UK housing","s":"counterfactual","k":"spending","t":1985.4,"v":3.92},{"d":"UK housing","s":"counterfactual","k":"spending","t":1986.7,"v":4.00},{"d":"UK housing","s":"counterfactual","k":"spending","t":1988.4,"v":3.99},{"d":"UK housing","s":"counterfactual","k":"spending","t":1989.7,"v":4.01},{"d":"UK housing","s":"counterfactual","k":"spending","t":1990.5,"v":4.08},{"d":"UK housing","s":"counterfactual","k":"spending","t":1991.4,"v":4.10},{"d":"UK housing","s":"counterfactual","k":"spending","t":1993.1,"v":4.22},{"d":"UK housing","s":"counterfactual","k":"spending","t":1994.4,"v":4.35},{"d":"UK housing","s":"counterfactual","k":"spending","t":1995.2,"v":4.52},{"d":"UK housing","s":"counterfactual","k":"spending","t":1996.1,"v":4.70},{"d":"UK housing","s":"counterfactual","k":"spending","t":1997.0,"v":4.81},{"d":"UK housing","s":"counterfactual","k":"spending","t":1998.2,"v":4.81},{"d":"UK housing","s":"counterfactual","k":"spending","t":1999.3,"v":4.84},{"d":"UK housing","s":"counterfactual","k":"spending","t":2000.6,"v":4.86},

    {"d":"UK housing","s":"counterfactual","k":"revenue","t":1964.3,"v":3.59},{"d":"UK housing","s":"counterfactual","k":"revenue","t":1965.0,"v":3.81},{"d":"UK housing","s":"counterfactual","k":"revenue","t":1965.9,"v":4.03},{"d":"UK housing","s":"counterfactual","k":"revenue","t":1966.8,"v":4.11},{"d":"UK housing","s":"counterfactual","k":"revenue","t":1967.5,"v":4.03},{"d":"UK housing","s":"counterfactual","k":"revenue","t":1968.4,"v":3.86},{"d":"UK housing","s":"counterfactual","k":"revenue","t":1969.4,"v":3.82},{"d":"UK housing","s":"counterfactual","k":"revenue","t":1970.5,"v":3.75},{"d":"UK housing","s":"counterfactual","k":"revenue","t":1971.2,"v":3.77},{"d":"UK housing","s":"counterfactual","k":"revenue","t":1972.2,"v":3.91},{"d":"UK housing","s":"counterfactual","k":"revenue","t":1972.9,"v":3.95},{"d":"UK housing","s":"counterfactual","k":"revenue","t":1973.6,"v":3.91},{"d":"UK housing","s":"counterfactual","k":"revenue","t":1974.7,"v":3.83},{"d":"UK housing","s":"counterfactual","k":"revenue","t":1975.6,"v":3.80},{"d":"UK housing","s":"counterfactual","k":"revenue","t":1976.7,"v":3.81},{"d":"UK housing","s":"counterfactual","k":"revenue","t":1977.8,"v":3.83},{"d":"UK housing","s":"counterfactual","k":"revenue","t":1978.9,"v":3.84},{"d":"UK housing","s":"counterfactual","k":"revenue","t":1980.0,"v":3.93},{"d":"UK housing","s":"counterfactual","k":"revenue","t":1980.9,"v":4.08},{"d":"UK housing","s":"counterfactual","k":"revenue","t":1981.8,"v":4.19},{"d":"UK housing","s":"counterfactual","k":"revenue","t":1982.5,"v":4.22},{"d":"UK housing","s":"counterfactual","k":"revenue","t":1983.4,"v":4.12},{"d":"UK housing","s":"counterfactual","k":"revenue","t":1984.4,"v":4.04},{"d":"UK housing","s":"counterfactual","k":"revenue","t":1985.3,"v":4.03},{"d":"UK housing","s":"counterfactual","k":"revenue","t":1986.4,"v":4.15},{"d":"UK housing","s":"counterfactual","k":"revenue","t":1987.5,"v":4.17},{"d":"UK housing","s":"counterfactual","k":"revenue","t":1988.4,"v":4.21},{"d":"UK housing","s":"counterfactual","k":"revenue","t":1989.3,"v":4.26},{"d":"UK housing","s":"counterfactual","k":"revenue","t":1990.4,"v":4.29},{"d":"UK housing","s":"counterfactual","k":"revenue","t":1991.3,"v":4.27},{"d":"UK housing","s":"counterfactual","k":"revenue","t":1992.4,"v":4.29},{"d":"UK housing","s":"counterfactual","k":"revenue","t":1993.4,"v":4.31},{"d":"UK housing","s":"counterfactual","k":"revenue","t":1994.3,"v":4.28},{"d":"UK housing","s":"counterfactual","k":"revenue","t":1995.0,"v":4.34},{"d":"UK housing","s":"counterfactual","k":"revenue","t":1995.9,"v":4.48},{"d":"UK housing","s":"counterfactual","k":"revenue","t":1997.0,"v":4.61},{"d":"UK housing","s":"counterfactual","k":"revenue","t":1998.1,"v":4.68},{"d":"UK housing","s":"counterfactual","k":"revenue","t":1999.0,"v":4.73},{"d":"UK housing","s":"counterfactual","k":"revenue","t":1999.9,"v":4.79},{"d":"UK housing","s":"counterfactual","k":"revenue","t":2000.5,"v":4.85}
  ]},
  "spacing": 62,
  "resolve": {"scale": {"color": "independent", "strokeDash": "independent", "strokeWidth": "independent"}, "legend": {"color": "independent", "strokeDash": "independent"}},
  "vconcat": [
    {
      "title": {"text": "Figure 9 – VAR counterfactual, U.S..", "font": "Liberation Serif", "fontSize": 15, "fontWeight": "normal", "color": "#222", "anchor": "middle", "offset": 1.5, "dx": 2},
      "spacing": 1,
      "resolve": {"scale": {"color": "independent", "strokeDash": "independent", "strokeWidth": "independent"}, "legend": {"color": "independent", "strokeDash": "independent"}},
      "vconcat": [
        {
          "width": 957, "height": 1,
          "view": {"stroke": null},
          "data": {"values": [{"from": 0, "to": 1007}]},
          "mark": {"type": "rule", "color": "#777", "strokeWidth": 1.5},
          "encoding": {
            "x": {"field": "from", "type": "quantitative", "scale": {"domain": [50, 1007], "nice": false, "zero": false}, "axis": null},
            "x2": {"field": "to"}
          }
        },
        {
          "spacing": 98,
          "resolve": {"scale": {"color": "independent", "strokeDash": "independent", "strokeWidth": "independent"}, "legend": {"color": "independent", "strokeDash": "independent"}},
          "hconcat": [
            {
              "title": {"text": "9a – spending shock", "font": "Liberation Serif", "fontSize": 15, "fontWeight": "normal", "color": "#222", "anchor": "middle", "offset": 31, "dx": -2},
              "spacing": 111,
              "resolve": {"scale": {"color": "independent", "strokeDash": "independent", "strokeWidth": "independent"}, "legend": {"color": "independent", "strokeDash": "independent"}},
              "hconcat": [
                {
                  "width": 142, "height": 119,
                  "title": {"text": "Stock Price"},
                  "transform": [{"filter": "datum.d == 'US stock' && (datum.s == 'actual' || datum.k == 'spending')"}],
                  "mark": {"type": "line"},
                  "encoding": {
                    "x": {"field": "t", "type": "quantitative", "title": null, "scale": {"domain": [1968.5, 2009.2], "nice": false, "zero": false}, "axis": {"values": [1970,1975,1980,1985,1990,1995,2000,2005], "labelExpr": "datum.value % 10 == 0 ? '' + datum.value : ''"}},
                    "y": {"field": "v", "type": "quantitative", "title": null, "scale": {"domain": [2.40, 4.72], "nice": false, "zero": false}, "axis": {"values": [2.5,3,3.5,4,4.5], "format": ".1f"}},
                    "color": {"field": "s", "type": "nominal", "title": null, "scale": {"domain": ["actual","counterfactual"], "range": ["#e23a48", "#333333"]}, "legend": {"labelFontSize": 6, "symbolSize": 72, "padding": 3, "labelOffset": 5, "offset": 5, "symbolStrokeWidth": 1.2}},
                    "strokeDash": {"field": "s", "type": "nominal", "title": null, "scale": {"domain": ["actual","counterfactual"], "range": [[1,0],[3,2]]}, "legend": {"labelFontSize": 6, "symbolSize": 72, "padding": 3, "labelOffset": 5, "offset": 5, "symbolStrokeWidth": 1.2}},
                    "strokeWidth": {"field": "s", "type": "nominal", "legend": null, "scale": {"domain": ["actual","counterfactual"], "range": [1.2, 0.9]}}
                  }
                },
                {
                  "width": 140, "height": 118,
                  "title": {"text": "Housing Price"},
                  "transform": [{"filter": "datum.d == 'US housing' && (datum.s == 'actual' || datum.k == 'spending')"}],
                  "mark": {"type": "line"},
                  "encoding": {
                    "x": {"field": "t", "type": "quantitative", "title": null, "scale": {"domain": [1968.5, 2009.4], "nice": false, "zero": false}, "axis": {"values": [1970,1975,1980,1985,1990,1995,2000,2005], "labelExpr": "datum.value % 10 == 0 ? '' + datum.value : ''"}},
                    "y": {"field": "v", "type": "quantitative", "title": null, "scale": {"domain": [11.41, 12.55], "nice": false, "zero": false}, "axis": {"values": [11.6,11.8,12,12.2,12.4], "format": ".1f"}},
                    "color": {"field": "s", "type": "nominal", "title": null, "scale": {"domain": ["actual","counterfactual"], "range": ["#e23a48", "#333333"]}, "legend": {"labelFontSize": 6, "symbolSize": 72, "padding": 3, "labelOffset": 5, "offset": 5, "symbolStrokeWidth": 1.2}},
                    "strokeDash": {"field": "s", "type": "nominal", "title": null, "scale": {"domain": ["actual","counterfactual"], "range": [[1,0],[3,2]]}, "legend": {"labelFontSize": 6, "symbolSize": 72, "padding": 3, "labelOffset": 5, "offset": 5, "symbolStrokeWidth": 1.2}},
                    "strokeWidth": {"field": "s", "type": "nominal", "legend": null, "scale": {"domain": ["actual","counterfactual"], "range": [1.2, 0.9]}}
                  }
                }
              ]
            },
            {
              "title": {"text": "9b – revenue shock", "font": "Liberation Serif", "fontSize": 15, "fontWeight": "normal", "color": "#222", "anchor": "middle", "offset": 31, "dx": 7},
              "spacing": 110,
              "resolve": {"scale": {"color": "independent", "strokeDash": "independent", "strokeWidth": "independent"}, "legend": {"color": "independent", "strokeDash": "independent"}},
              "hconcat": [
                {
                  "width": 139, "height": 120,
                  "title": {"text": "Stock Price"},
                  "transform": [{"filter": "datum.d == 'US stock' && (datum.s == 'actual' || datum.k == 'revenue')"}],
                  "mark": {"type": "line"},
                  "encoding": {
                    "x": {"field": "t", "type": "quantitative", "title": null, "scale": {"domain": [1968.3, 2009.1], "nice": false, "zero": false}, "axis": {"values": [1970,1975,1980,1985,1990,1995,2000,2005], "labelExpr": "datum.value % 10 == 0 ? '' + datum.value : ''"}},
                    "y": {"field": "v", "type": "quantitative", "title": null, "scale": {"domain": [2.40, 4.74], "nice": false, "zero": false}, "axis": {"values": [2.5,3,3.5,4,4.5], "format": ".1f"}},
                    "color": {"field": "s", "type": "nominal", "title": null, "scale": {"domain": ["actual","counterfactual"], "range": ["#e23a48", "#333333"]}, "legend": {"labelFontSize": 6, "symbolSize": 72, "padding": 3, "labelOffset": 5, "offset": 5, "symbolStrokeWidth": 1.2}},
                    "strokeDash": {"field": "s", "type": "nominal", "title": null, "scale": {"domain": ["actual","counterfactual"], "range": [[1,0],[3,2]]}, "legend": {"labelFontSize": 6, "symbolSize": 72, "padding": 3, "labelOffset": 5, "offset": 5, "symbolStrokeWidth": 1.2}},
                    "strokeWidth": {"field": "s", "type": "nominal", "legend": null, "scale": {"domain": ["actual","counterfactual"], "range": [1.2, 0.9]}}
                  }
                },
                {
                  "width": 142, "height": 121,
                  "title": {"text": "Housing Price"},
                  "transform": [{"filter": "datum.d == 'US housing' && (datum.s == 'actual' || datum.k == 'revenue')"}],
                  "mark": {"type": "line"},
                  "encoding": {
                    "x": {"field": "t", "type": "quantitative", "title": null, "scale": {"domain": [1968.6, 2009.3], "nice": false, "zero": false}, "axis": {"values": [1970,1975,1980,1985,1990,1995,2000,2005], "labelExpr": "datum.value % 10 == 0 ? '' + datum.value : ''"}},
                    "y": {"field": "v", "type": "quantitative", "title": null, "scale": {"domain": [11.41, 12.54], "nice": false, "zero": false}, "axis": {"values": [11.6,11.8,12,12.2,12.4], "format": ".1f"}},
                    "color": {"field": "s", "type": "nominal", "title": null, "scale": {"domain": ["actual","counterfactual"], "range": ["#e23a48", "#333333"]}, "legend": {"labelFontSize": 6, "symbolSize": 72, "padding": 3, "labelOffset": 5, "offset": 5, "symbolStrokeWidth": 1.2}},
                    "strokeDash": {"field": "s", "type": "nominal", "title": null, "scale": {"domain": ["actual","counterfactual"], "range": [[1,0],[3,2]]}, "legend": {"labelFontSize": 6, "symbolSize": 72, "padding": 3, "labelOffset": 5, "offset": 5, "symbolStrokeWidth": 1.2}},
                    "strokeWidth": {"field": "s", "type": "nominal", "legend": null, "scale": {"domain": ["actual","counterfactual"], "range": [1.2, 0.9]}}
                  }
                }
              ]
            }
          ]
        }
      ]
    },
    {
      "title": {"text": "Figure 10 – VAR counterfactual, U.K..", "font": "Liberation Serif", "fontSize": 15, "fontWeight": "normal", "color": "#222", "anchor": "middle", "offset": 2, "dx": 3.5},
      "spacing": 3,
      "resolve": {"scale": {"color": "independent", "strokeDash": "independent", "strokeWidth": "independent"}, "legend": {"color": "independent", "strokeDash": "independent"}},
      "vconcat": [
        {
          "width": 957, "height": 1,
          "view": {"stroke": null},
          "data": {"values": [{"from": 0, "to": 1007}]},
          "mark": {"type": "rule", "color": "#777", "strokeWidth": 1.5},
          "encoding": {
            "x": {"field": "from", "type": "quantitative", "scale": {"domain": [50, 1007], "nice": false, "zero": false}, "axis": null},
            "x2": {"field": "to"}
          }
        },
        {
          "spacing": 98,
          "resolve": {"scale": {"color": "independent", "strokeDash": "independent", "strokeWidth": "independent"}, "legend": {"color": "independent", "strokeDash": "independent"}},
          "hconcat": [
            {
              "title": {"text": "10a – spending shock", "font": "Liberation Serif", "fontSize": 15, "fontWeight": "normal", "color": "#222", "anchor": "middle", "offset": 28, "dx": -13},
              "spacing": 98,
              "resolve": {"scale": {"color": "independent", "strokeDash": "independent", "strokeWidth": "independent"}, "legend": {"color": "independent", "strokeDash": "independent"}},
              "hconcat": [
                {
                  "width": 149, "height": 128,
                  "title": {"text": "Stock Price", "fontSize": 7.9, "offset": 4},
                  "transform": [{"filter": "datum.d == 'UK stock' && (datum.s == 'actual' || datum.k == 'spending')"}],
                  "mark": {"type": "line"},
                  "encoding": {
                    "x": {"field": "t", "type": "quantitative", "title": null, "scale": {"domain": [1962.2, 2003.0], "nice": false, "zero": false}, "axis": {"values": [1965,1970,1975,1980,1985,1990,1995,2000], "labelFontSize": 6.4, "labelExpr": "(datum.value - 1965) % 10 == 0 ? '' + datum.value : ''"}},
                    "y": {"field": "v", "type": "quantitative", "title": null, "scale": {"domain": [3.18, 5.21], "nice": false, "zero": false}, "axis": {"values": [3.5,4,4.5,5], "format": ".1f", "labelFontSize": 6.4}},
                    "color": {"field": "s", "type": "nominal", "title": null, "scale": {"domain": ["actual","counterfactual"], "range": ["#e23a48", "#333333"]}, "legend": {"labelFontSize": 6.2, "symbolSize": 110, "padding": 3, "labelOffset": 4, "offset": 5, "symbolStrokeWidth": 1.5}},
                    "strokeDash": {"field": "s", "type": "nominal", "title": null, "scale": {"domain": ["actual","counterfactual"], "range": [[1,0],[3,2]]}, "legend": {"labelFontSize": 6.2, "symbolSize": 110, "padding": 3, "labelOffset": 4, "offset": 5, "symbolStrokeWidth": 1.5}},
                    "strokeWidth": {"field": "s", "type": "nominal", "legend": null, "scale": {"domain": ["actual","counterfactual"], "range": [1.6, 0.9]}}
                  }
                },
                {
                  "width": 151, "height": 130,
                  "title": {"text": "Housing Price", "fontSize": 7.9, "offset": 4},
                  "transform": [{"filter": "datum.d == 'UK housing' && (datum.s == 'actual' || datum.k == 'spending')"}],
                  "mark": {"type": "line"},
                  "encoding": {
                    "x": {"field": "t", "type": "quantitative", "title": null, "scale": {"domain": [1963.1, 2001.9], "nice": false, "zero": false}, "axis": {"values": [1965,1970,1975,1980,1985,1990,1995,2000], "labelFontSize": 6.4, "labelExpr": "(datum.value - 1965) % 10 == 0 ? '' + datum.value : ''"}},
                    "y": {"field": "v", "type": "quantitative", "title": null, "scale": {"domain": [3.53, 4.92], "nice": false, "zero": false}, "axis": {"values": [3.6,3.8,4,4.2,4.4,4.6,4.8], "format": ".1f", "labelFontSize": 6.4}},
                    "color": {"field": "s", "type": "nominal", "title": null, "scale": {"domain": ["actual","counterfactual"], "range": ["#e23a48", "#333333"]}, "legend": {"labelFontSize": 6.2, "symbolSize": 110, "padding": 3, "labelOffset": 4, "offset": 5, "symbolStrokeWidth": 1.5}},
                    "strokeDash": {"field": "s", "type": "nominal", "title": null, "scale": {"domain": ["actual","counterfactual"], "range": [[1,0],[3,2]]}, "legend": {"labelFontSize": 6.2, "symbolSize": 110, "padding": 3, "labelOffset": 4, "offset": 5, "symbolStrokeWidth": 1.5}},
                    "strokeWidth": {"field": "s", "type": "nominal", "legend": null, "scale": {"domain": ["actual","counterfactual"], "range": [1.6, 0.9]}}
                  }
                }
              ]
            },
            {
              "title": {"text": "10b – revenue shock", "font": "Liberation Serif", "fontSize": 15, "fontWeight": "normal", "color": "#222", "anchor": "middle", "offset": 28, "dx": -13},
              "spacing": 97,
              "resolve": {"scale": {"color": "independent", "strokeDash": "independent", "strokeWidth": "independent"}, "legend": {"color": "independent", "strokeDash": "independent"}},
              "hconcat": [
                {
                  "width": 152, "height": 128,
                  "title": {"text": "Stock Price", "fontSize": 7.9, "offset": 4},
                  "transform": [{"filter": "datum.d == 'UK stock' && (datum.s == 'actual' || datum.k == 'revenue')"}],
                  "mark": {"type": "line"},
                  "encoding": {
                    "x": {"field": "t", "type": "quantitative", "title": null, "scale": {"domain": [1962.5, 2002.8], "nice": false, "zero": false}, "axis": {"values": [1965,1970,1975,1980,1985,1990,1995,2000], "labelFontSize": 6.4, "labelExpr": "(datum.value - 1965) % 10 == 0 ? '' + datum.value : ''"}},
                    "y": {"field": "v", "type": "quantitative", "title": null, "scale": {"domain": [3.18, 5.22], "nice": false, "zero": false}, "axis": {"values": [3.5,4,4.5,5], "format": ".1f", "labelFontSize": 6.4}},
                    "color": {"field": "s", "type": "nominal", "title": null, "scale": {"domain": ["actual","counterfactual"], "range": ["#e23a48", "#333333"]}, "legend": {"labelFontSize": 6.2, "symbolSize": 110, "padding": 3, "labelOffset": 4, "offset": 5, "symbolStrokeWidth": 1.5}},
                    "strokeDash": {"field": "s", "type": "nominal", "title": null, "scale": {"domain": ["actual","counterfactual"], "range": [[1,0],[3,2]]}, "legend": {"labelFontSize": 6.2, "symbolSize": 110, "padding": 3, "labelOffset": 4, "offset": 5, "symbolStrokeWidth": 1.5}},
                    "strokeWidth": {"field": "s", "type": "nominal", "legend": null, "scale": {"domain": ["actual","counterfactual"], "range": [1.6, 0.9]}}
                  }
                },
                {
                  "width": 151, "height": 128,
                  "title": {"text": "Housing Price", "fontSize": 7.9, "offset": 4},
                  "transform": [{"filter": "datum.d == 'UK housing' && (datum.s == 'actual' || datum.k == 'revenue')"}],
                  "mark": {"type": "line"},
                  "encoding": {
                    "x": {"field": "t", "type": "quantitative", "title": null, "scale": {"domain": [1962.6, 2002.5], "nice": false, "zero": false}, "axis": {"values": [1965,1970,1975,1980,1985,1990,1995,2000], "labelFontSize": 6.4, "labelExpr": "(datum.value - 1965) % 10 == 0 ? '' + datum.value : ''"}},
                    "y": {"field": "v", "type": "quantitative", "title": null, "scale": {"domain": [3.53, 4.92], "nice": false, "zero": false}, "axis": {"values": [3.6,3.8,4,4.2,4.4,4.6,4.8], "format": ".1f", "labelFontSize": 6.4}},
                    "color": {"field": "s", "type": "nominal", "title": null, "scale": {"domain": ["actual","counterfactual"], "range": ["#e23a48", "#333333"]}, "legend": {"labelFontSize": 6.2, "symbolSize": 110, "padding": 3, "labelOffset": 4, "offset": 5, "symbolStrokeWidth": 1.5}},
                    "strokeDash": {"field": "s", "type": "nominal", "title": null, "scale": {"domain": ["actual","counterfactual"], "range": [[1,0],[3,2]]}, "legend": {"labelFontSize": 6.2, "symbolSize": 110, "padding": 3, "labelOffset": 4, "offset": 5, "symbolStrokeWidth": 1.5}},
                    "strokeWidth": {"field": "s", "type": "nominal", "legend": null, "scale": {"domain": ["actual","counterfactual"], "range": [1.6, 0.9]}}
                  }
                }
              ]
            }
          ]
        }
      ]
    }
  ]
}
